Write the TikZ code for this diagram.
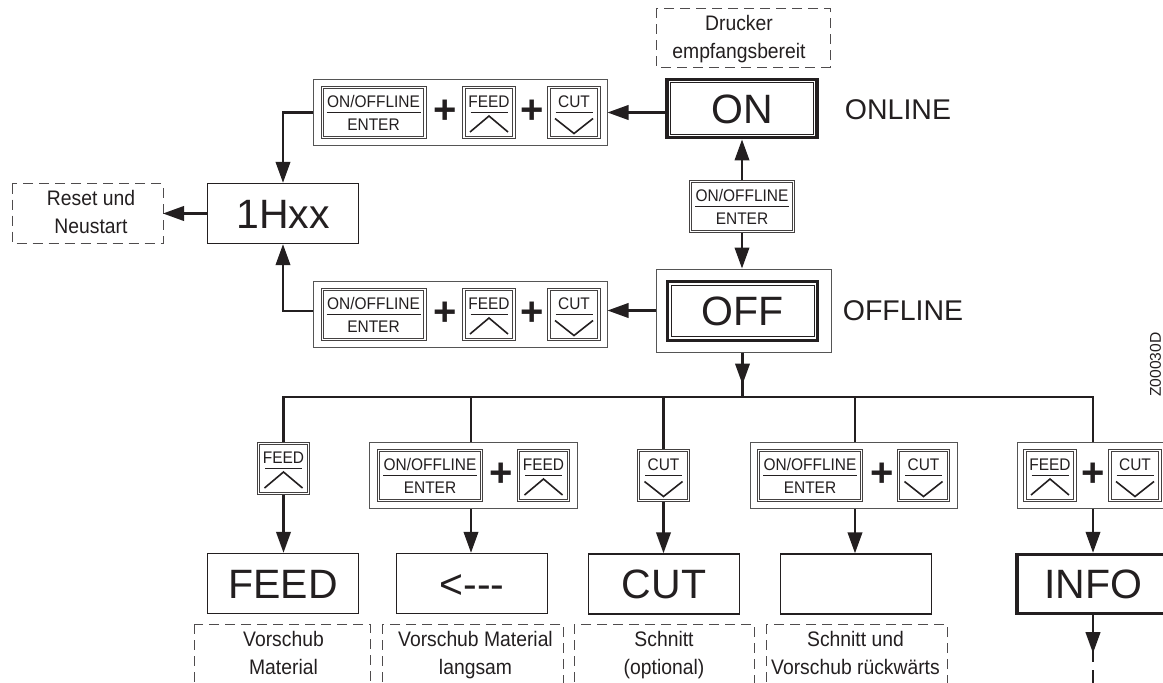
\documentclass[tikz,border=0pt]{standalone}
\usepackage{fontspec}
\setmainfont{Liberation Sans}
\newfontfamily\narrowfont[FakeStretch=0.92]{Liberation Sans}
\usetikzlibrary{arrows.meta}
\definecolor{ink}{HTML}{231F20}
\definecolor{fr}{HTML}{555555}
\tikzset{
  x=1pt,y=-1pt,
  every node/.style={text=ink,inner sep=0pt},
  frame/.style={draw=fr,line width=1pt,fill=white,minimum height=66pt,outer sep=0.5pt},
  keybox/.style={draw=ink!85,line width=1pt,double=white,double distance=1.4pt,fill=white,minimum height=49.6pt,outer sep=1.7pt},
  keytxt/.style={font=\narrowfont\fontsize{16.8}{16.8}\selectfont,anchor=base},
  keyline/.style={draw=ink,line width=1.2pt},
  chev/.style={draw=ink,line width=1.6pt,line join=miter},
  plussign/.style={font=\fontsize{40}{40}\bfseries\selectfont},
  big/.style={font=\fontsize{41}{41}\selectfont,text height=29.4pt,text depth=0pt},
  plainbox/.style={big,draw=ink,line width=1.5pt,fill=white,minimum width=151pt,minimum height=60pt,outer sep=0.7pt},
  thickbox/.style={big,draw=ink,line width=3.4pt,fill=white,minimum width=150pt,minimum height=59pt,outer sep=1.7pt},
  thinin/.style={big,draw=ink,line width=1pt,fill=white},
  dbox/.style={draw=ink!80,line width=1pt,dash pattern=on 10pt off 6pt,fill=white},
  lbl/.style={font=\narrowfont\fontsize{21}{21}\selectfont,anchor=base},
  side/.style={font=\fontsize{28.5}{28.5}\selectfont},
  conn/.style={draw=ink,line width=2.3pt,line join=miter},
  arr/.style={conn,-{Triangle[length=21pt,width=14.5pt]}},
}
% key macros: name, centre x, centre y
\newcommand\keyon[3]{%
  \node[keybox,minimum width=102.6pt] (#1) at (#2,#3) {};
  \begin{scope}[shift={(#2,#3)}]
    \node[keytxt] (#1-a) at (0,-5.5) {ON/OFFLINE};
    \node[keytxt] (#1-b) at (0,17.5) {ENTER};
    \draw[keyline] (-47,0) -- (47,0);
  \end{scope}}
\newcommand\keyfeed[3]{%
  \node[keybox,minimum width=50pt] (#1) at (#2,#3) {};
  \begin{scope}[shift={(#2,#3)}]
    \node[keytxt] (#1-a) at (0,-5.5) {FEED};
    \draw[keyline] (-18.5,0) -- (18.5,0);
    \draw[chev] (-19,19.5) -- (0,3.5) -- (19,19.5);
  \end{scope}}
\newcommand\keycut[3]{%
  \node[keybox,minimum width=50pt] (#1) at (#2,#3) {};
  \begin{scope}[shift={(#2,#3)}]
    \node[keytxt] (#1-a) at (0,-5.5) {CUT};
    \draw[keyline] (-18.5,0) -- (18.5,0);
    \draw[chev] (-19,6) -- (0,21) -- (19,6);
  \end{scope}}
% dashed box: name, left, top, right, bottom, text x, line1, line2
\newcommand\dashedbox[8]{%
  \draw[dbox] (#2,#3) rectangle (#4,#5);
  \coordinate (#1) at (#4,{(#3+#5)/2});
  \node[lbl] (#1-a) at (#6,#3+22) {#7};
  \node[lbl] (#1-b) at (#6,#3+50) {#8};}
\begin{document}
\begin{tikzpicture}
\useasboundingbox (0,0) rectangle (1163,683);
\clip (0,0) rectangle (1163,683);

% dashed note boxes
\dashedbox{drucker}{656}{8}{830}{67}{739}{Drucker}{empfangsbereit}
\dashedbox{reset}{12}{183.5}{163}{243}{91}{Reset und}{Neustart}
\dashedbox{d1}{194}{624}{370.5}{684}{283.5}{Vorschub}{Material}
\dashedbox{d2}{382}{624}{563}{684}{475.5}{Vorschub Material}{langsam}
\dashedbox{d3}{574}{624}{754.5}{684}{664}{Schnitt}{(optional)}
\dashedbox{d4}{766}{624}{947}{684}{855.5}{Schnitt und}{Vorschub rückwärts}

% ON box
\node[thickbox,minimum width=150pt,minimum height=58.5pt] (on) at (742,108.5) {};
\node[thinin,minimum width=143pt,minimum height=51.5pt] (onin) at (742,108.5) {ON};
\node[side] (online) at (898,110) {ONLINE};

% OFF box
\node[draw=fr,line width=1pt,fill=white,minimum width=175pt,minimum height=83pt,outer sep=0.5pt] (offo) at (743.5,310.5) {};
\node[thickbox,minimum width=150pt,minimum height=58.5pt] (off) at (742.5,311) {};
\node[thinin,minimum width=143pt,minimum height=51.5pt] (offin) at (742.5,311) {OFF};
\node[side] (offline) at (903,311) {OFFLINE};

% 1Hxx
\node[plainbox] (hxx) at (283,213.5) {1Hxx};

% upper combination
\node[frame,minimum width=294pt] (top) at (460,112.5) {};
\keyon{t1}{373.5}{112.5}
\node[plussign] (tp1) at (445,112) {+};
\keyfeed{t2}{489}{112.5}
\node[plussign] (tp2) at (532,112) {+};
\keycut{t3}{574}{112.5}

% lower combination
\node[frame,minimum width=294pt] (bot) at (460,314.5) {};
\keyon{b1}{373.5}{314.5}
\node[plussign] (bp1) at (445,314) {+};
\keyfeed{b2}{489}{314.5}
\node[plussign] (bp2) at (532,314) {+};
\keycut{b3}{574}{314.5}

% middle key
\keyon{mid}{742}{206.5}

% branch keys
\keyfeed{k1}{283.5}{468.5}
\node[frame,minimum width=208pt] (f2) at (473,475.5) {};
\keyon{k2a}{430}{475.5}
\node[plussign] (p2) at (501,475) {+};
\keyfeed{k2b}{543.5}{475.5}
\keycut{k3}{663.5}{475.5}
\node[frame,minimum width=207pt] (f4) at (853.5,475.5) {};
\keyon{k4a}{810}{475.5}
\node[plussign] (p4) at (882,475) {+};
\keycut{k4b}{923.5}{475.5}
\node[frame,minimum width=152pt] (f5) at (1093,475.5) {};
\keyfeed{k5a}{1050}{475.5}
\node[plussign] (p5) at (1093,475) {+};
\keycut{k5b}{1135}{475.5}

% result boxes
\node[plainbox] (feed) at (283,583.5) {FEED};
\node[plainbox] (slow) at (472,583.5) {<-{}-{}-};
\node[plainbox] (cut) at (664,584) {CUT};
\node[plainbox] (blank) at (856,584) {};
\node[thickbox,minimum width=152pt] (info) at (1093,584) {INFO};

% bus
\coordinate (bus) at (off |- 0,397);
\coordinate (bus1) at (k1 |- 0,397);
\coordinate (bus5) at (f5 |- 0,397);
\draw[conn] (bus1 |- k1.north) -- (bus1) -- (bus5) -- (f5.north);
\draw[conn] (f2.north -| 471,0) -- (471,397);
\draw[conn] (k3.north) -- (k3 |- bus);
\draw[conn] (f4.north -| 855,0) -- (855,397);

% connectors
\draw[arr] (on.west |- top.east) -- (top.east);
\draw[arr] (top.west) -| (hxx.north);
\draw[arr] (hxx.west) -- (reset |- hxx.west);
\draw[arr] (bot.west) ++(0,-3.5) -| (hxx.south);
\draw[arr] (offo.west) -- (bot.east |- offo.west);
\draw[arr] (mid.north) -- (mid.north |- on.south);
\draw[arr] (mid.south) -- (mid.south |- offo.north);
\draw[conn] (offo.south -| off) -- (bus);
\draw[arr] (offo.south -| off) -- ++(0,32);
\draw[arr] (k1.south) -- (feed.north -| k1);
\draw[arr] (f2.south -| 471,0) -- (slow.north -| 471,0);
\draw[arr] (k3.south) -- (cut.north -| k3);
\draw[arr] (f4.south -| 855,0) -- (blank.north -| 855,0);
\draw[arr] (f5.south) -- (info.north);
\draw[conn] (info.south) -- ++(0,47);
\draw[arr] (info.south) -- ++(0,38);
\draw[conn] (info.south) ++(0,55) -- ++(0,15);

% drawing number
\node[rotate=90,font=\fontsize{15.6}{15.6}\selectfont] (znum) at (1155.5,364.5) {Z00030D};
\end{tikzpicture}
\end{document}
